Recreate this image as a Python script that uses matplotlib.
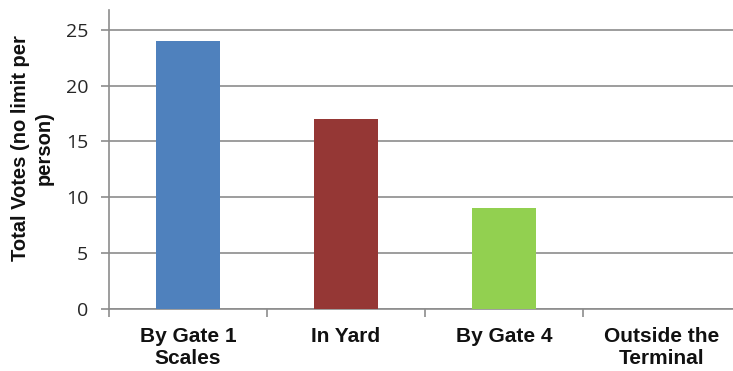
import matplotlib
matplotlib.use("Agg")
import matplotlib.pyplot as plt

categories = ["By Gate 1\nScales", "In Yard", "By Gate 4", "Outside the\nTerminal"]
votes = [24, 17, 9, 0]
colors = ["#4F81BD", "#953735", "#92D050", "#F79646"]
yticks = [0, 5, 10, 15, 20, 25]

W, H = 733, 371
fig = plt.figure(figsize=(W / 100, H / 100), dpi=100)
left, right = 109 / W, 741 / W
bottom, top = (H - 308.5) / H, (H - 10) / H
ax = fig.add_axes([left, bottom, right - left, top - bottom])

x = list(range(len(categories)))
ax.bar(x, votes, width=0.4, color=colors, zorder=3)
ax.set_xlim(-0.5, 3.5)
ax.set_ylim(0, 26.8)

ax.set_yticks(yticks)
ax.set_yticklabels([str(t) for t in yticks], fontsize=14, family="Open Sans", color="#262626")
ax.yaxis.grid(True, color="#8C8C8C", linewidth=1.2, zorder=0)
ax.set_axisbelow(True)

ax.set_xticks([i - 0.5 for i in range(1, len(categories) + 1)] + [-0.5])
ax.set_xticklabels([])
ax.tick_params(axis="x", length=6, color="#8C8C8C", width=1.2, direction="out")
ax.tick_params(axis="y", length=6, color="#8C8C8C", width=1.2, direction="out", pad=9)
for i, c in enumerate(categories):
    ax.text(i, -1.7, c, ha="center", va="top", fontsize=15, fontweight="bold",
            family="Liberation Sans", color="#111111", linespacing=1.2)

for s in ["top", "right"]:
    ax.spines[s].set_visible(False)
for s in ["left", "bottom"]:
    ax.spines[s].set_color("#8C8C8C")
    ax.spines[s].set_linewidth(1.2)

fig.text(32 / W, (H - 148) / H, "Total Votes (no limit per\nperson)", rotation=90,
         ha="center", va="center", fontsize=14.5, fontweight="bold",
         family="Liberation Sans", color="#111111", linespacing=1.3)

fig.savefig("out.png", dpi=100)
